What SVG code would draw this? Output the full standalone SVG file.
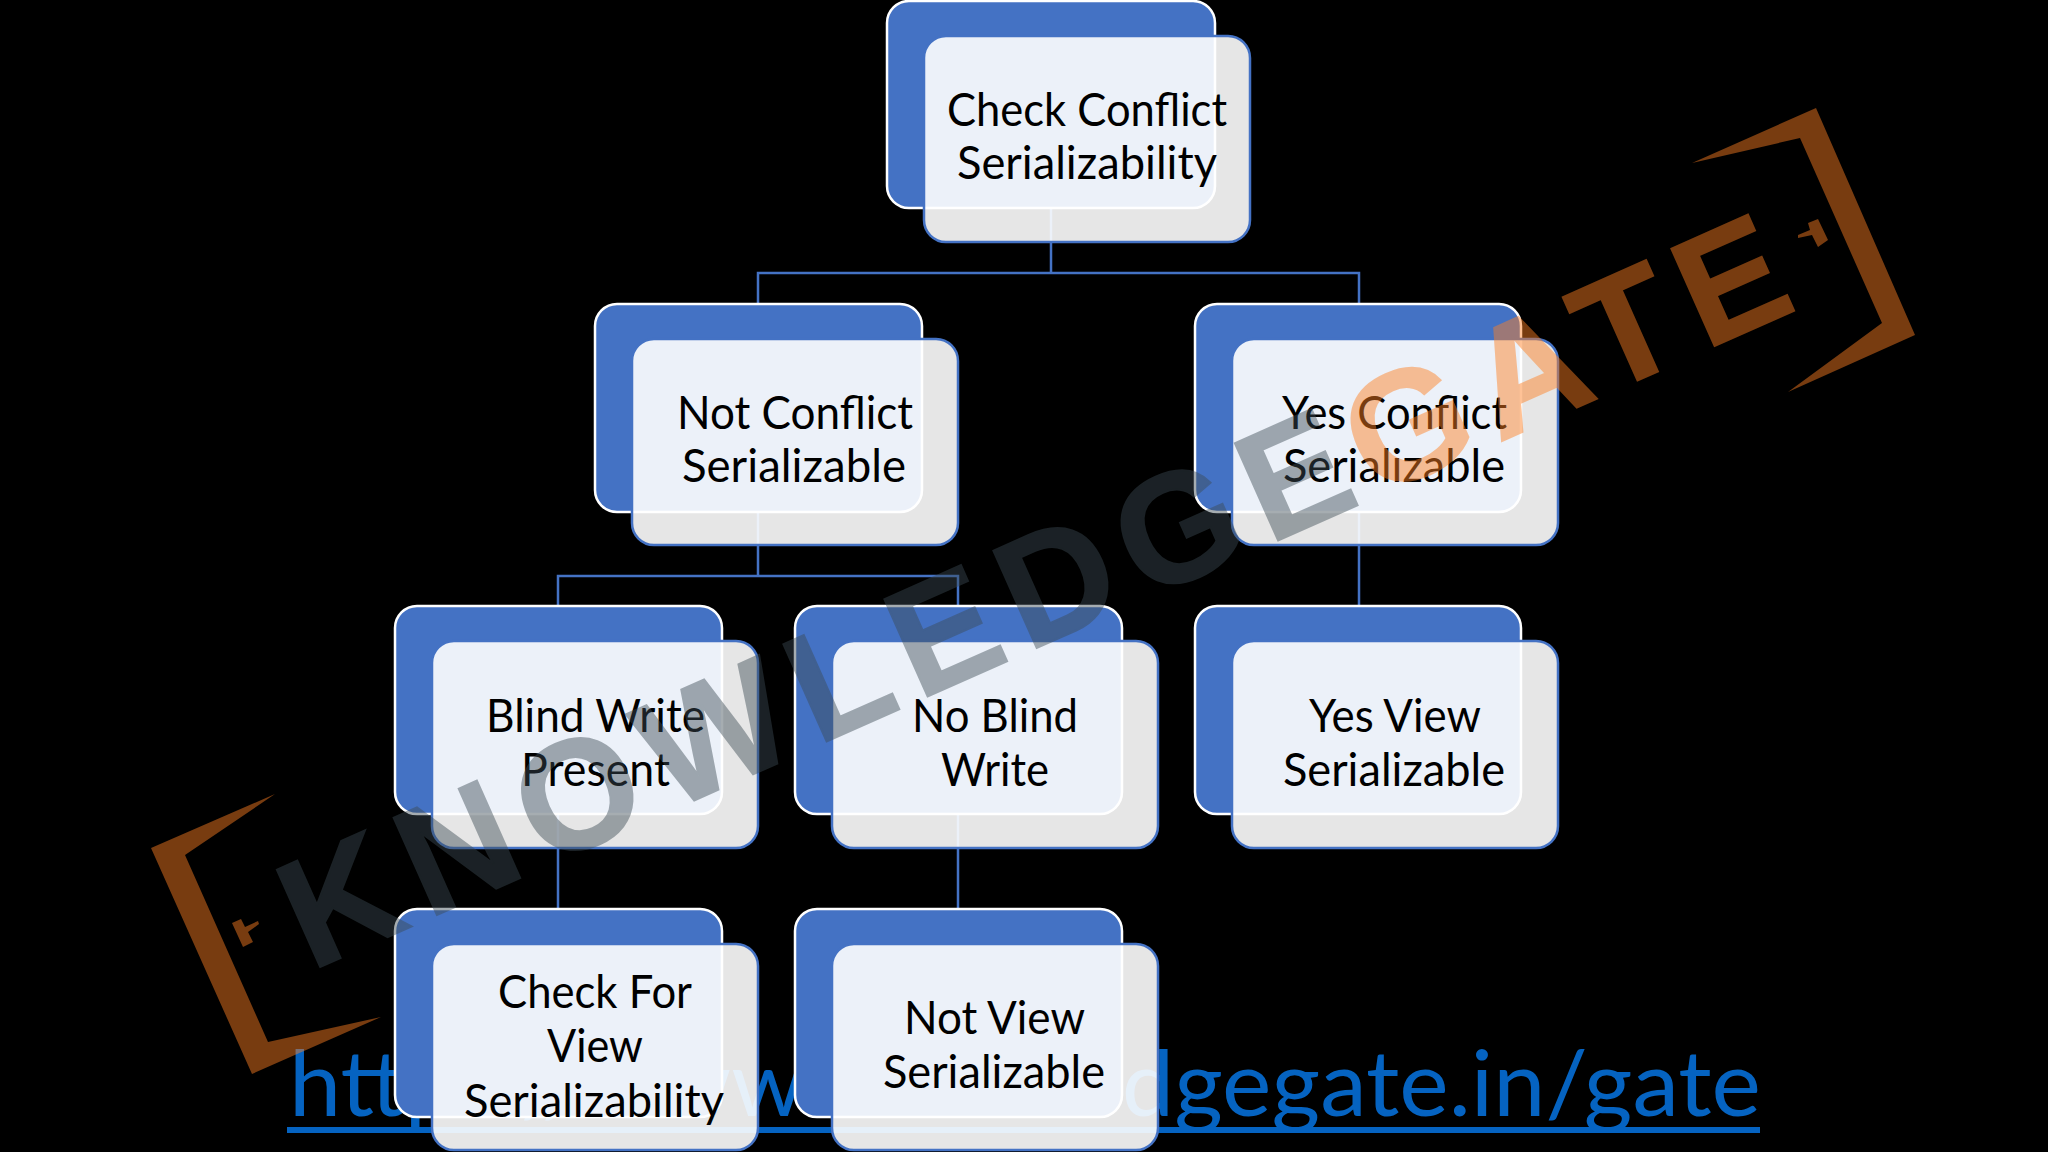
<svg xmlns="http://www.w3.org/2000/svg" width="2048" height="1152" viewBox="0 0 2048 1152">
<style>
.back{fill:#4472c4;stroke:#fff;stroke-width:2.5}
.front{fill:#fff;fill-opacity:.9;stroke:#4472c4;stroke-width:2.5}
.label{font-family:"Lato","Liberation Sans",sans-serif;font-size:46px;fill:#000;text-anchor:start}
.conn{fill:none;stroke:#4472c4;stroke-width:2.5}
.mark{font-family:"Liberation Sans",Arial,sans-serif;font-weight:700;font-size:155px;stroke-width:2}
</style>
<rect width="2048" height="1152" fill="#000"/>
<g id="link">
<text x="289" y="1116" font-family="Lato,'Liberation Sans',sans-serif" font-size="92" fill="#0563c1" textLength="1472" lengthAdjust="spacingAndGlyphs">https://www.knowledgegate.in/gate</text>
<rect x="287" y="1127" width="1473" height="6" fill="#0563c1"/>
</g>
<g id="connectors" class="conn">
<path d="M1051 208V273M758 304V273H1359V304"/>
<path d="M758 512V576M558 605V576H958V605"/>
<path d="M1359 512V605"/>
<path d="M558 814V909"/>
<path d="M958 814V909"/>
</g>
<g id="node-check-conflict">
<rect class="back" x="887" y="1" width="328" height="207" rx="22"/>
<rect class="front" x="924" y="36" width="326" height="206" rx="22"/>
<text class="label" x="947" y="126" textLength="280" lengthAdjust="spacingAndGlyphs">Check Conflict</text>
<text class="label" x="957" y="179" textLength="260" lengthAdjust="spacingAndGlyphs">Serializability</text>
</g>
<g id="node-not-conflict">
<rect class="back" x="595" y="304" width="327" height="208" rx="22"/>
<rect class="front" x="632" y="339" width="326" height="206" rx="22"/>
<text class="label" x="677" y="429" textLength="236" lengthAdjust="spacingAndGlyphs">Not Conflict</text>
<text class="label" x="682" y="482" textLength="224" lengthAdjust="spacingAndGlyphs">Serializable</text>
</g>
<g id="node-yes-conflict">
<rect class="back" x="1195" y="304" width="326" height="208" rx="22"/>
<rect class="front" x="1232" y="339" width="326" height="206" rx="22"/>
<text class="label" x="1282" y="429" textLength="225" lengthAdjust="spacingAndGlyphs">Yes Conflict</text>
<text class="label" x="1283" y="482" textLength="222" lengthAdjust="spacingAndGlyphs">Serializable</text>
</g>
<g id="node-blind-write">
<rect class="back" x="395" y="606" width="327" height="208" rx="22"/>
<rect class="front" x="432" y="641" width="326" height="207" rx="22"/>
<text class="label" x="486" y="732" textLength="219" lengthAdjust="spacingAndGlyphs">Blind Write</text>
<text class="label" x="521" y="786" textLength="149" lengthAdjust="spacingAndGlyphs">Present</text>
</g>
<g id="node-no-blind">
<rect class="back" x="795" y="606" width="327" height="208" rx="22"/>
<rect class="front" x="832" y="641" width="326" height="207" rx="22"/>
<text class="label" x="912" y="732" textLength="166" lengthAdjust="spacingAndGlyphs">No Blind</text>
<text class="label" x="941" y="786" textLength="108" lengthAdjust="spacingAndGlyphs">Write</text>
</g>
<g id="node-yes-view">
<rect class="back" x="1195" y="606" width="326" height="208" rx="22"/>
<rect class="front" x="1232" y="641" width="326" height="207" rx="22"/>
<text class="label" x="1309" y="732" textLength="172" lengthAdjust="spacingAndGlyphs">Yes View</text>
<text class="label" x="1283" y="786" textLength="222" lengthAdjust="spacingAndGlyphs">Serializable</text>
</g>
<g id="node-check-view">
<rect class="back" x="395" y="909" width="327" height="208" rx="22"/>
<rect class="front" x="432" y="944" width="326" height="206" rx="22"/>
<text class="label" x="498" y="1008" textLength="194" lengthAdjust="spacingAndGlyphs">Check For</text>
<text class="label" x="547" y="1062" textLength="96" lengthAdjust="spacingAndGlyphs">View</text>
<text class="label" x="464" y="1117" textLength="260" lengthAdjust="spacingAndGlyphs">Serializability</text>
</g>
<g id="node-not-view">
<rect class="back" x="795" y="909" width="327" height="208" rx="22"/>
<rect class="front" x="832" y="944" width="326" height="206" rx="22"/>
<text class="label" x="904" y="1034" textLength="181" lengthAdjust="spacingAndGlyphs">Not View</text>
<text class="label" x="883" y="1088" textLength="222" lengthAdjust="spacingAndGlyphs">Serializable</text>
</g>
<g id="watermark">
<g fill="#ff8022" fill-opacity=".47">
<polygon points="275,794 151,848 252,1074 381,1017 268,1042 185,855"/>
<polygon points="232,923 241,919 245,927 258,921 259,924 248,932 253,942 243,947"/>
<polygon points="1816,108 1915,335 1788,392 1882,323 1800,138 1692,163"/>
<polygon points="1808,223 1818,219 1828,240 1818,247 1812,235 1798,238 1798,235 1810,230"/>
</g>
<g transform="translate(318,968) rotate(-24)">
<text class="mark" x="-8" y="0" fill="#3c4b54" stroke="#3c4b54" opacity=".45" textLength="1152" lengthAdjust="spacing">KNOWLEDGE</text>
<text class="mark" x="1156" y="0" fill="#ff8022" stroke="#ff8022" opacity=".47" textLength="466" lengthAdjust="spacing">GATE</text>
</g>
</g>
</svg>
